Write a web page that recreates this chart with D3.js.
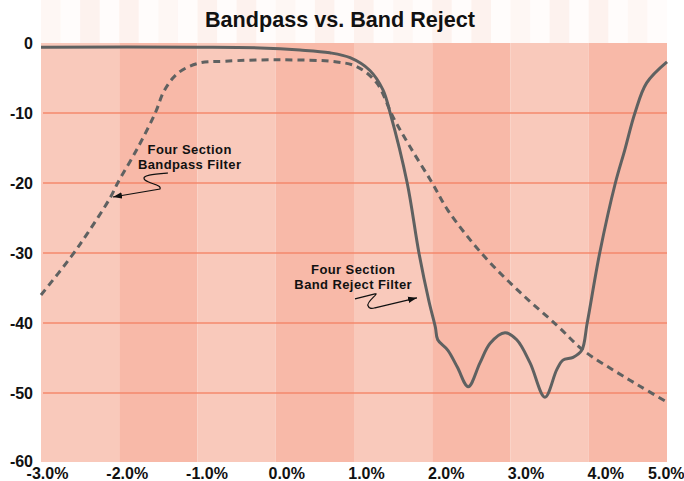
<!DOCTYPE html>
<html>
<head>
<meta charset="utf-8">
<script src="https://cdn.jsdelivr.net/npm/d3@7"></script>
<style>
  body { margin: 0; background: #fff; }
  svg { display: block; font-family: "Liberation Sans", Arial, sans-serif; font-weight: bold; }
</style>
</head>
<body>
<svg id="chart" width="684" height="481"></svg>
<script>
/*
** Data
*/
var percentTicks = [-3, -2, -1, 0, 1, 2, 3, 4, 5]
  , dbTicks = [0, -10, -20, -30, -40, -50, -60]
  , rejectFreq = [-3.0, -0.97, -0.2, 0.31, 0.69, 0.95, 1.2, 1.37, 1.46, 1.68, 1.83, 1.96, 2.04, 2.07,
                  2.2, 2.32, 2.46, 2.61, 2.74, 2.93, 3.08, 3.25, 3.44, 3.59, 3.67, 3.8, 3.91, 3.98,
                  4.14, 4.34, 4.46, 4.59, 4.74, 5.0]
  , rejectDb = [-0.6, -0.6, -0.7, -1.0, -1.4, -2.1, -3.9, -6.7, -9.9, -20, -30, -37, -40.6, -42.4,
                -43.9, -46.3, -49.1, -45.7, -42.9, -41.4, -42.4, -45.7, -50.6, -46.7, -45.3, -44.9, -43.9, -40,
                -30, -20, -15.3, -10, -5.7, -2.7]
  , bandpassFreq = [-3.0, -2.62, -2.4, -2.11, -2.02, -1.76, -1.54, -1.42, -1.25, -0.99, -0.65, 0.05, 0.78,
                    1.04, 1.29, 1.5, 1.72, 2.0, 2.2, 2.65, 3.12, 3.59, 3.93, 4.31, 4.65, 5.0]
  , bandpassDb = [-36, -30.6, -27.1, -22, -20, -14.9, -10, -6.7, -4.3, -2.9, -2.6, -2.4, -2.7,
                  -3.4, -5.7, -10.6, -14.9, -20, -23.9, -30.3, -35.6, -40.3, -43.9, -46.7, -49, -51.3]
  , noteLines = [["Four Section", "Bandpass Filter"], ["Four Section", "Band Reject Filter"]]
  , noteAt = [[-1.10, -15.9], [0.99, -33.0]]     // text centre / first baseline
  , arrowTip = [[-2.08, -22.0], [1.805, -36.4]]
;

/*
** Setup
*/
var svg = d3.select("#chart")
  , x = d3.scaleLinear().domain([-3, 5]).range([41, 667])
  , xLabel = d3.scaleLinear().domain([-3, 5]).range([47, 685])
  , y = d3.scaleLinear().domain([0, -60]).range([43, 463])
  , ink = "#5f6161"
  , light = "#f9c9bb"
  , dark = "#f8b9a8"
  , grid = "#f4896c"
;

// faint stripes above the plot
var stripes = d3.range(-3, 5, 0.25);
svg.append("g")
  .selectAll("rect")
  .data(stripes)
  .join("rect")
    .attr("x", function(d) { return x(d); })
    .attr("y", 0)
    .attr("width", x(0.25) - x(0))
    .attr("height", y(0))
    .attr("fill", "#fbe3da")
    .attr("opacity", function(d, i) { return i % 2 ? 0.12 : (i % 3 ? 0.45 : 0.3); })
;

// alternating bands
svg.append("g")
  .selectAll("rect")
  .data(percentTicks.slice(0, -1))
  .join("rect")
    .attr("x", function(d) { return x(d); })
    .attr("y", y(0))
    .attr("width", function(d) { return x(d + 1) - x(d); })
    .attr("height", y(-60) - y(0) - 1)
    .attr("fill", function(d, i) { return i % 2 ? dark : light; })
;

// gridlines
svg.append("g")
  .selectAll("line")
  .data(dbTicks.filter(function(d) { return d < 0 && d > -60; }))
  .join("line")
    .attr("x1", x(-3) + 2)
    .attr("x2", x(5))
    .attr("y1", function(d) { return y(d); })
    .attr("y2", function(d) { return y(d); })
    .attr("stroke", grid)
    .attr("stroke-width", 1.6)
;

// axes
var yAxis = d3.axisLeft(y).tickValues(dbTicks).tickSize(0).tickPadding(8)
      .tickFormat(function(d) { return String(d); })
  , xAxis = d3.axisBottom(xLabel).tickValues(percentTicks).tickSize(0).tickPadding(5)
      .tickFormat(function(d) { return d.toFixed(1) + "%"; })
;
svg.append("g")
    .attr("transform", "translate(" + x(-3) + ",0)")
    .call(yAxis)
    .call(function(g) { g.select(".domain").remove(); })
  .selectAll("text")
    .attr("font-family", null)
    .attr("font-size", 16)
    .attr("fill", "#111")
    .filter(function(d) { return d === -60; })
    .attr("y", -2)
;
svg.append("g")
    .attr("transform", "translate(0," + y(-60) + ")")
    .call(xAxis)
    .call(function(g) { g.select(".domain").remove(); })
  .selectAll("text")
    .attr("font-family", null)
    .attr("font-size", 16)
    .attr("fill", "#111")
    // last label is pulled in so it stays on the page
    .filter(function(d) { return d === 5; })
    .attr("text-anchor", "end")
    .attr("x", 684 - xLabel(5))
;

// curves
var line = d3.line()
    .x(function(d) { return x(d[0]); })
    .y(function(d) { return y(d[1]); })
    .curve(d3.curveCatmullRom.alpha(0.5))
;
svg.append("path")
    .datum(d3.zip(bandpassFreq, bandpassDb))
    .attr("d", line)
    .attr("fill", "none")
    .attr("stroke", ink)
    .attr("stroke-width", 3)
    .attr("stroke-dasharray", "7,5")
;
svg.append("path")
    .datum(d3.zip(rejectFreq, rejectDb))
    .attr("d", line)
    .attr("fill", "none")
    .attr("stroke", ink)
    .attr("stroke-width", 3)
;

// title
svg.append("text")
    .attr("x", 340)
    .attr("y", 27)
    .attr("text-anchor", "middle")
    .attr("font-size", 21.6)
    .attr("fill", "#111")
    .text("Bandpass vs. Band Reject")
;

// annotations
svg.append("defs").append("marker")
    .attr("id", "head")
    .attr("viewBox", "0 -4 9 8")
    .attr("refX", 9)
    .attr("refY", 0)
    .attr("markerWidth", 9)
    .attr("markerHeight", 8)
    .attr("markerUnits", "userSpaceOnUse")
    .attr("orient", "auto")
  .append("path")
    .attr("d", "M0,-3.2L9,0L0,3.2Z")
    .attr("fill", "#111")
;

var squiggles = [
    "M55,-24 C42,-23 27,-22 32,-17 C37,-13 49,-12 47,-8 L0,0"
  , "M-62,1 L-42,-4 C-37,-5 -51,4 -49,8 C-48,11 -45,11 -42,10 L0,0"
];

noteLines.forEach(function(lines, i) {
    var t = svg.append("text")
        .attr("text-anchor", "middle")
        .attr("font-size", 13)
        .attr("letter-spacing", 0.4)
        .attr("fill", "#111")
    ;
    lines.forEach(function(s, j) {
        t.append("tspan")
            .attr("x", x(noteAt[i][0]))
            .attr("y", y(noteAt[i][1]) + j * 15)
            .text(s)
        ;
      });
    svg.append("path")
        .attr("transform", "translate(" + x(arrowTip[i][0]) + "," + y(arrowTip[i][1]) + ")")
        .attr("d", squiggles[i])
        .attr("fill", "none")
        .attr("stroke", "#111")
        .attr("stroke-width", 1.2)
        .attr("marker-end", "url(#head)")
    ;
  });
</script>
</body>
</html>
